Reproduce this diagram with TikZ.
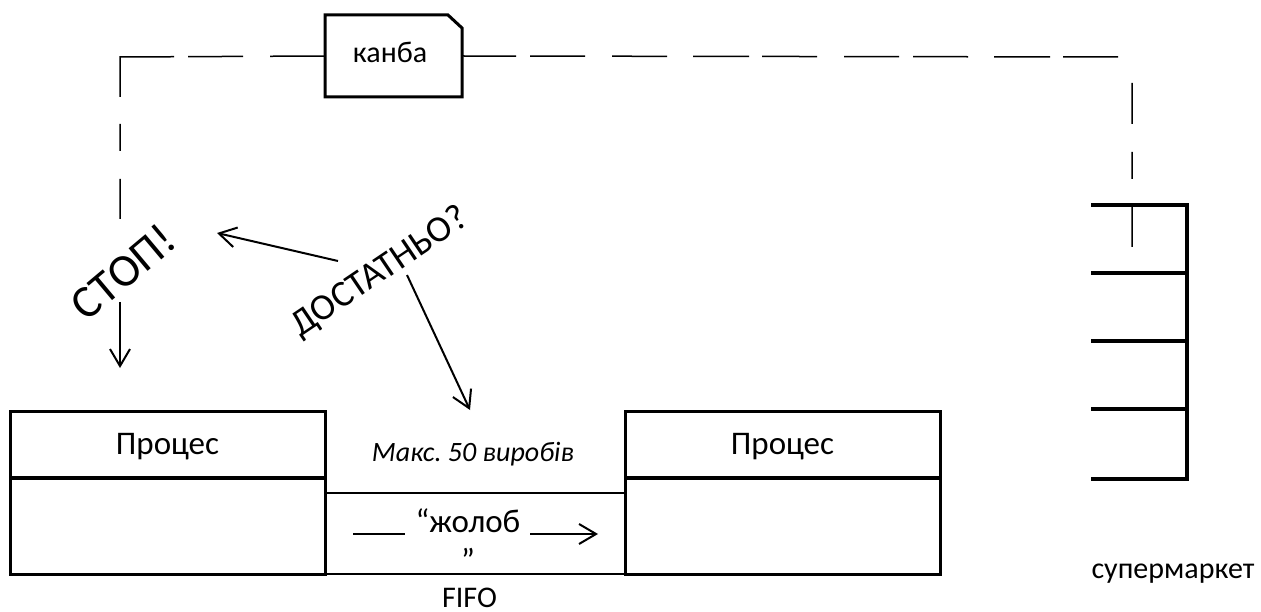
\documentclass[tikz,border=0pt]{standalone}
\usepackage{fontspec}
\setmainfont{Carlito}
\usetikzlibrary{arrows.meta,calc}
\frenchspacing
\begin{document}
\begin{tikzpicture}[x=1pt,y=-1pt,
  txt/.style={font=\fontsize{30}{39}\selectfont, inner sep=0pt, outer sep=0pt},
  bigtxt/.style={font=\fontsize{33}{39}\selectfont, inner sep=0pt, outer sep=0pt},
  procbox/.style={draw, line width=3pt, minimum width=315pt, minimum height=163pt, inner sep=0pt, outer sep=0pt},
  kanbanbox/.style={minimum width=137pt, minimum height=82pt, inner sep=0pt, outer sep=0pt},
  thickline/.style={line width=4pt},
  thinline/.style={line width=1.3pt},
  dashline/.style={line width=1.5pt},
  arr/.style={line width=2pt, -{Straight Barb[length=17pt,width=20pt,line width=2pt]}},
  rack/.style={line width=4pt, line join=miter},
]
\useasboundingbox (0,0) rectangle (1261,612);

% process boxes
\node[procbox] (p1) at (167.5,492.5) {};
\node[procbox] (p2) at (783,492.5) {};
\coordinate (dv) at (0,478);
\draw[thickline] (p1.west |- dv) -- (p1.east |- dv);
\draw[thickline] (p2.west |- dv) -- (p2.east |- dv);
\node[bigtxt, anchor=base] (p1t) at (167.5,454) {Процес};
\node[bigtxt, anchor=base] (p2t) at (782.5,454) {Процес};

% chute (FIFO)
\coordinate (ct) at (0,493);
\draw[thinline] (p1.east |- ct) -- (p2.west |- ct);
\draw[thinline] (p1.south east) -- (p2.south west);
\node[inner sep=0pt, anchor=base, font=\fontsize{28}{30}\selectfont\itshape] (maks) at (473,461) {Макс. 50 виробів};
\node[bigtxt, anchor=base, align=center] (chute) at (468,571) {“жолоб\\”};
\coordinate (ca1) at (353,534);
\coordinate (ca2) at (405,534);
\coordinate (ca3) at (530,534);
\coordinate (ca4) at (598,534);
\draw[thinline] (ca1) -- (ca2);
\draw[arr] (ca3) -- (ca4);
\node[txt, anchor=base] (fifo) at (469.5,607) {FIFO};

% kanban card
\node[kanbanbox] (kanban) at (393.5,56) {};
\draw[line width=3pt, line join=miter] (kanban.south west) -- (kanban.north west) -- ($(kanban.north east)+(-14,0)$) -- ($(kanban.north east)+(0,13)$) -- (kanban.south east) -- cycle;
\node[txt, anchor=base] (kanbant) at (390,63) {канба};

% supermarket
\coordinate (s1) at (1091,205);
\coordinate (s2) at (1187,205);
\coordinate (s3) at (1187,479);
\coordinate (s4) at (1091,479);
\draw[rack] (s1) -- (s2) -- (s3) -- (s4);
\foreach \yy in {273,341,409} \draw[rack] (1091,\yy) -- (1187,\yy);
\node[txt, anchor=base] (super) at (1173,578) {супермаркет};

% dashed kanban loop
\coordinate (lc) at (120,57);
\coordinate (le) at (120,219);
\coordinate (rc) at (1132,57);
\coordinate (re) at (1132,247);
\draw[dashline, dash pattern=on 55pt off 27pt on 55pt off 14pt on 94pt off 27pt on 27pt off 28pt on 40pt off 60pt] (kanban.west) -- (lc) -- (le);
\draw[dashline, dash pattern=on 54pt off 14pt on 55pt off 27pt on 55pt off 26pt on 56pt off 13pt on 55pt off 27pt on 55pt off 14pt on 55pt off 26pt on 56pt off 13pt on 55pt off 40pt on 41pt off 28pt on 27pt off 28pt on 40pt off 60pt] (kanban.east) -- (rc) -- (re);

% rotated words
\node[inner sep=0pt, rotate=40, font=\fontsize{46}{50}\selectfont] (stop) at (123,272) {СТОП!};
\node[inner sep=0pt, rotate=34, font=\fontsize{37}{40}\selectfont] (enough) at (380,272) {ДОСТАТНЬО?};

\coordinate (a1s) at (338,261);
\coordinate (a1e) at (217,233);
\coordinate (a2s) at (120,302);
\coordinate (a2e) at (120,368);
\coordinate (a3s) at (407,275);
\coordinate (a3e) at (470,410);
\draw[arr] (a1s) -- (a1e);
\draw[arr] (a2s) -- (a2e);
\draw[arr] (a3s) -- (a3e);
\end{tikzpicture}
\end{document}
